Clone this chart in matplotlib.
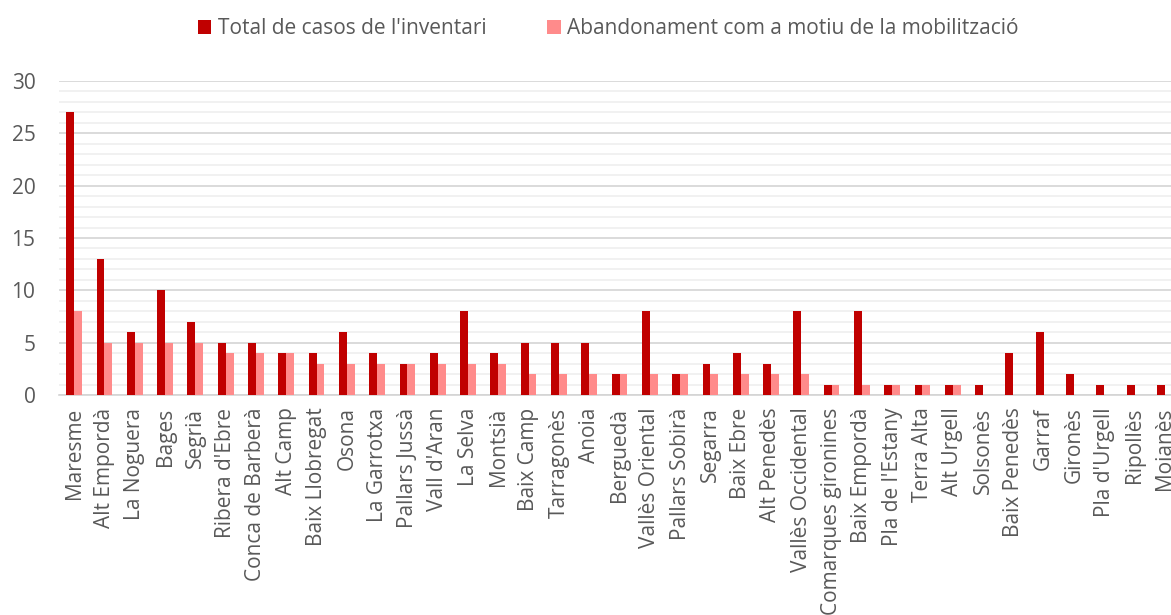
import numpy as np
import matplotlib.pyplot as plt
from matplotlib.ticker import MultipleLocator

plt.rcParams['font.family'] = ['Open Sans', 'DejaVu Sans']

comarques = ["Maresme", "Alt Empordà", "La Noguera", "Bages", "Segrià", "Ribera d'Ebre",
             "Conca de Barberà", "Alt Camp", "Baix Llobregat", "Osona", "La Garrotxa",
             "Pallars Jussà", "Vall d'Aran", "La Selva", "Montsià", "Baix Camp", "Tarragonès",
             "Anoia", "Berguedà", "Vallès Oriental", "Pallars Sobirà", "Segarra", "Baix Ebre",
             "Alt Penedès", "Vallès Occidental", "Comarques gironines", "Baix Empordà",
             "Pla de l'Estany", "Terra Alta", "Alt Urgell", "Solsonès", "Baix Penedès",
             "Garraf", "Gironès", "Pla d'Urgell", "Ripollès", "Moianès"]
total = [27, 13, 6, 10, 7, 5, 5, 4, 4, 6, 4, 3, 4, 8, 4, 5, 5, 5, 2, 8, 2, 3, 4, 3, 8,
         1, 8, 1, 1, 1, 1, 4, 6, 2, 1, 1, 1]
abandonament = [8, 5, 5, 5, 5, 4, 4, 4, 3, 3, 3, 3, 3, 3, 3, 2, 2, 2, 2, 2, 2, 2, 2, 2, 2,
                1, 1, 1, 1, 1, 0, 0, 0, 0, 0, 0, 0]

fig = plt.figure(figsize=(11.71, 6.15), dpi=100)
# the plot area runs a little past the right edge, so the last label is cut
ax = fig.add_axes([59 / 1171, 220 / 615, 1121 / 1171, 314 / 615])

x = np.arange(len(comarques))
w = 0.26
ax.bar(x - w / 2, total, w, color='#C00000', label="Total de casos de l'inventari", zorder=3)
ax.bar(x + w / 2, abandonament, w, color='#FF8B8B',
       label="Abandonament com a motiu de la mobilització", zorder=3)

ax.set_xlim(-0.5, len(comarques) - 0.5)
ax.set_ylim(0, 30)
ax.yaxis.set_major_locator(MultipleLocator(5))
ax.yaxis.set_minor_locator(MultipleLocator(1))
ax.grid(axis='y', which='major', color='#D4D4D4', linewidth=1.2, zorder=0)
ax.grid(axis='y', which='minor', color='#EFEFEF', linewidth=1.2, zorder=0)
ax.set_axisbelow(True)

for s in ['top', 'right', 'left']:
    ax.spines[s].set_visible(False)
ax.spines['bottom'].set_color('#D4D4D4')
ax.spines['bottom'].set_linewidth(1.2)

ax.set_xticks(x)
ax.set_xticklabels(comarques, rotation=90, fontsize=15, color='#595959')
ax.tick_params(axis='both', which='both', length=0)
ax.tick_params(axis='y', labelsize=15, labelcolor='#595959', pad=17)
ax.tick_params(axis='x', pad=9)

leg = fig.legend(loc='center', bbox_to_anchor=(608 / 1171, 1 - 29 / 615), ncol=2,
                 frameon=False, fontsize=15, handlelength=0.67, handleheight=0.67,
                 handletextpad=0.3, columnspacing=2.9)
for t in leg.get_texts():
    t.set_color('#595959')

fig.savefig("out.png", dpi=100)
